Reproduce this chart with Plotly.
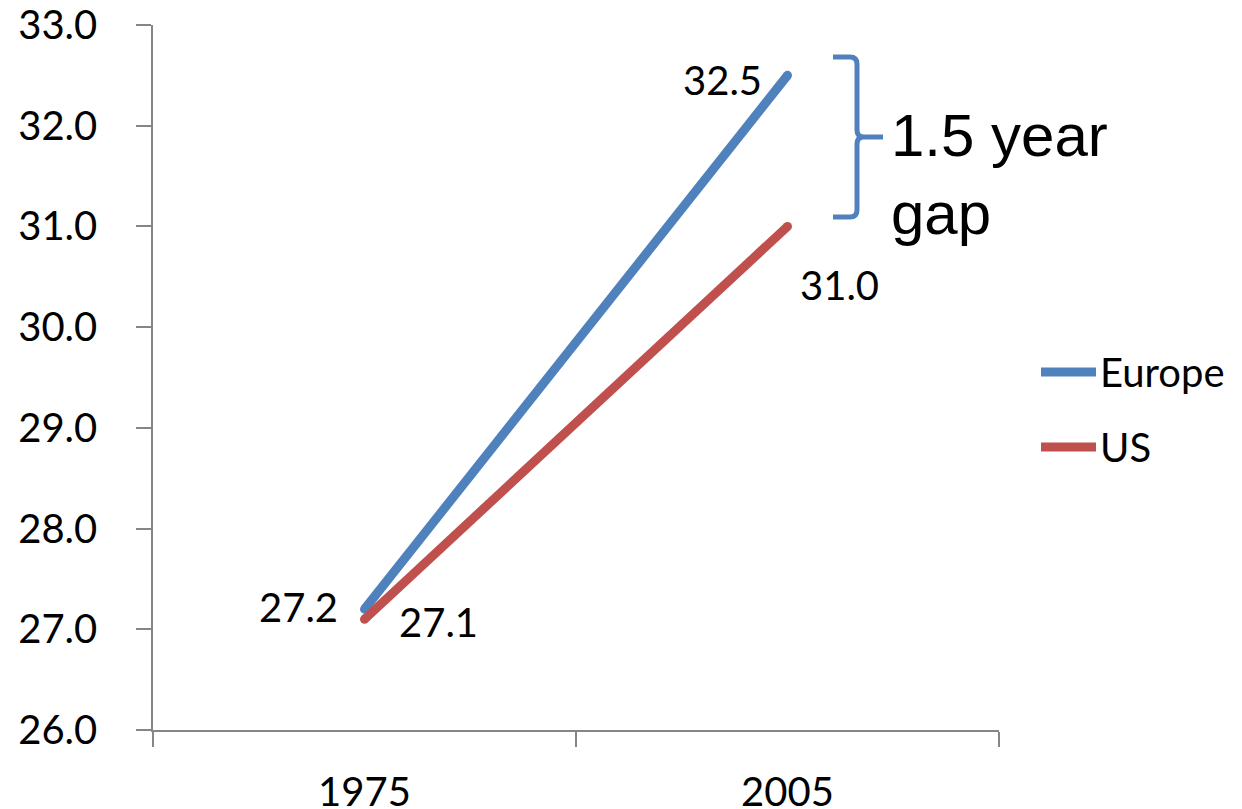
import plotly.graph_objects as go

# Median age at first birth (years)
years = ["1975", "2005"]
europe = [27.2, 32.5]
us = [27.1, 31.0]
series_names = ["Europe", "US"]
series_colors = ["#4F81BD", "#C0504D"]
y_ticks = [26, 27, 28, 29, 30, 31, 32, 33]

W, H = 1242, 809
L, R, T, B = 153, 243, 25, 79
PW, PH = W - L - R, H - T - B

LABEL_FONT = dict(family="Lato, 'Noto Sans', sans-serif", size=40, color="#000000")
AXIS_COLOR = "#868686"
LINE_W = 9


def px(x):
    """Pixel x -> paper x."""
    return (x - L) / PW


def py(y):
    """Pixel y -> paper y."""
    return (H - B - y) / PH


fig = go.Figure()
for name, vals, col in zip(series_names, [europe, us], series_colors):
    # round markers at the ends give the thick lines rounded caps
    fig.add_trace(go.Scatter(
        x=years, y=vals, mode="lines+markers", name=name,
        line=dict(color=col, width=LINE_W),
        marker=dict(color=col, size=LINE_W, line=dict(width=0)),
        showlegend=False,
    ))

# value labels next to each end point (x given as category index)
label_offsets = {
    "Europe": [(-66, 2), (-65, -5)],
    "US": [(74, -3), (52, -59)],
}
annotations = []
for name, vals in zip(series_names, [europe, us]):
    for idx, (v, (dx, dy)) in enumerate(zip(vals, label_offsets[name])):
        annotations.append(dict(
            x=idx, y=v, xref="x", yref="y", text=f"{v:.1f}", showarrow=False,
            xshift=dx, yshift=dy, font=LABEL_FONT, xanchor="center", yanchor="middle",
        ))

# legend drawn as line samples plus text
shapes = []
legend_rows = [372, 447]
for name, col, row in zip(series_names, series_colors, legend_rows):
    shapes.append(dict(
        type="line", xref="paper", yref="paper",
        x0=px(1041), x1=px(1096), y0=py(row), y1=py(row),
        line=dict(color=col, width=LINE_W),
    ))
    annotations.append(dict(
        x=px(1098), y=py(row), xref="paper", yref="paper", text=name,
        showarrow=False, xanchor="left", yanchor="middle", font=LABEL_FONT,
    ))

# curly brace marking the gap
def P(x, y):
    return f"{px(x):.5f},{py(y):.5f}"

brace = (
    f"M{P(833,57)} L{P(850,57)} Q{P(857,57)} {P(857,64)} L{P(857,130)} "
    f"Q{P(857,137)} {P(864,137)} L{P(883,137)} "
    f"M{P(864,137)} Q{P(857,137)} {P(857,144)} L{P(857,210)} "
    f"Q{P(857,217)} {P(850,217)} L{P(833,217)}"
)
shapes.append(dict(type="path", xref="paper", yref="paper", path=brace,
                   line=dict(color="#4F81BD", width=5)))
annotations.append(dict(
    x=px(889), y=py(175), xref="paper", yref="paper",
    text="1.5 year<br>gap", showarrow=False, xanchor="left", yanchor="middle",
    align="left",
    font=dict(family="'Liberation Sans', Arial, sans-serif", size=60, color="#000000"),
))

fig.update_layout(
    width=W, height=H,
    margin=dict(l=L, r=R, t=T, b=B, pad=0, autoexpand=False),
    paper_bgcolor="#FFFFFF", plot_bgcolor="#FFFFFF",
    showlegend=False,
    shapes=shapes, annotations=annotations,
    xaxis=dict(
        type="category", range=[-0.5, 1.5], tickson="boundaries", automargin=False,
        showgrid=False, zeroline=False, showline=True, linecolor=AXIS_COLOR,
        linewidth=1.5, ticks="outside", ticklen=15, tickcolor=AXIS_COLOR,
        tickwidth=1.5, tickfont=LABEL_FONT, ticklabelstandoff=26,
    ),
    yaxis=dict(
        range=[26, 33], tickvals=y_ticks, tickformat=".1f", automargin=False,
        showgrid=False, zeroline=False, showline=True, linecolor=AXIS_COLOR,
        linewidth=1.5, ticks="outside", ticklen=15, tickcolor=AXIS_COLOR,
        tickwidth=1.5, tickfont=LABEL_FONT, ticklabelstandoff=31,
    ),
)

fig.write_html("out.html")
